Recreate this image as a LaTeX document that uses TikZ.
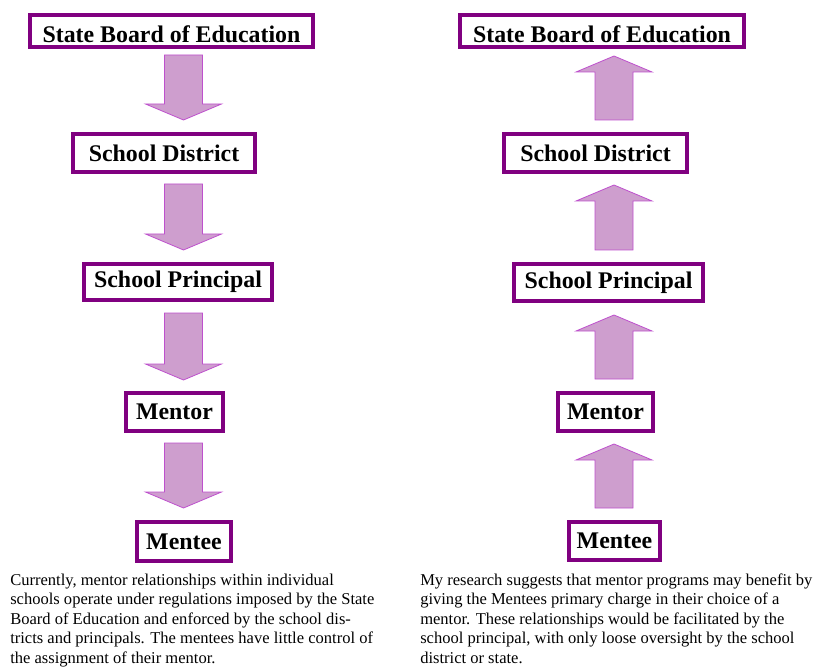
\documentclass[tikz,border=0pt]{standalone}
\usepackage{fontspec}
\setmainfont{Liberation Serif}
\usetikzlibrary{calc}
\definecolor{boxpurple}{RGB}{128,0,128}
\definecolor{arrowfill}{RGB}{206,158,206}
\definecolor{arrowline}{RGB}{190,80,205}
\tikzset{
  box/.style={draw=boxpurple, line width=3pt, fill=white, inner sep=0pt,
    font=\fontsize{17.9}{20}\selectfont\bfseries},
  boxsize/.style 2 args={minimum width=#1*0.75pt, minimum height=#2*0.75pt},
  note/.style={align=left, inner sep=0pt, font=\fontsize{12.4}{14.6}\selectfont},
  blockarrow/.style={draw=arrowline, fill=arrowfill, line width=0.6pt,
    to path={let \p1=(\tikztostart), \p2=(\tikztotarget),
      \p3=($(\tikztotarget)!12pt!(\tikztostart)$) in
      (\x1-14.25pt,\y1) -- (\x1+14.25pt,\y1) -- (\x1+14.25pt,\y3)
      -- (\x1+28.5pt,\y3) -- (\x2,\y2) -- (\x1-28.5pt,\y3)
      -- (\x1-14.25pt,\y3) -- cycle}}
}
\begin{document}
\begin{tikzpicture}[x=0.75pt,y=-0.75pt]
\useasboundingbox (0,0) rectangle (817,670);
% left column, top down
\node[box, boxsize={283}{32}] (boardL) at (171.5,31)
  {\raisebox{-2.5pt}[\height][\depth]{State Board of Education}};
\node[box, boxsize={182}{38}] (distL) at (164,153) {School District};
\node[box, boxsize={188}{36}] (princL) at (178,282) {School Principal};
\node[box, boxsize={97}{38}] (mentorL) at (174.5,412) {Mentor};
\node[box, boxsize={94}{39}] (menteeL) at (184,541.5) {Mentee};
% right column, bottom up
\node[box, boxsize={284}{32}] (boardR) at (602,31)
  {\raisebox{-2.5pt}[\height][\depth]{State Board of Education}};
\node[box, boxsize={183}{38}] (distR) at (595.5,153) {School District};
\node[box, boxsize={189}{37}] (princR) at (608.5,282.5) {School Principal};
\node[box, boxsize={95}{38}] (mentorR) at (605.5,412) {Mentor};
\node[box, boxsize={91}{38}] (menteeR) at (614.5,541) {Mentee};
% arrow ends
\coordinate (dn1a) at (183.5,55);  \coordinate (dn1b) at (183.5,120);
\coordinate (dn2a) at (183.5,184); \coordinate (dn2b) at (183.5,250);
\coordinate (dn3a) at (183.5,313); \coordinate (dn3b) at (183.5,380);
\coordinate (dn4a) at (183.5,443); \coordinate (dn4b) at (183.5,508);
\coordinate (up1a) at (614,120); \coordinate (up1b) at (614,56);
\coordinate (up2a) at (614,250); \coordinate (up2b) at (614,185);
\coordinate (up3a) at (614,379); \coordinate (up3b) at (614,315);
\coordinate (up4a) at (614,508); \coordinate (up4b) at (614,444);
% arrows
\draw[blockarrow] (dn1a) to (dn1b);
\draw[blockarrow] (dn2a) to (dn2b);
\draw[blockarrow] (dn3a) to (dn3b);
\draw[blockarrow] (dn4a) to (dn4b);
\draw[blockarrow] (up1a) to (up1b);
\draw[blockarrow] (up2a) to (up2b);
\draw[blockarrow] (up3a) to (up3b);
\draw[blockarrow] (up4a) to (up4b);
% notes (base = last line)
\node[note, anchor=base west] (noteL) at (10,663)
  {Currently, mentor relationships within individual\\
   schools operate under regulations imposed by the State\\
   Board of Education and enforced by the school dis-\\
   tricts and principals.  The mentees have little control of\\
   the assignment of their mentor.};
\node[note, anchor=base west] (noteR) at (420,663)
  {My research suggests that mentor programs may benefit by\\
   giving the Mentees primary charge in their choice of a\\
   mentor.  These relationships would be facilitated by the\\
   school principal, with only loose oversight by the school\\
   district or state.};
\end{tikzpicture}
\end{document}
